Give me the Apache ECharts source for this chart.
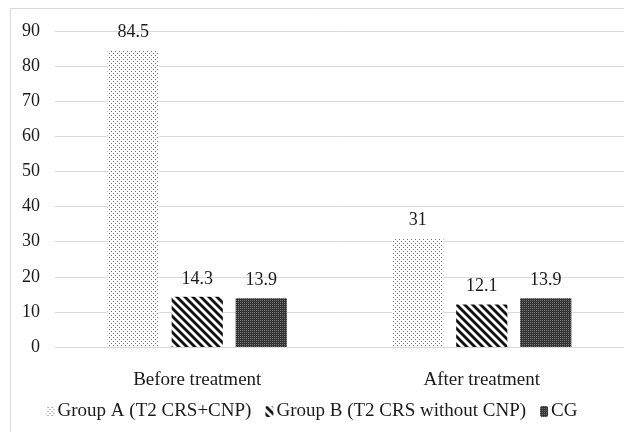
<!DOCTYPE html>
<html>
<head>
<meta charset="utf-8">
<script src="https://cdn.jsdelivr.net/npm/echarts@6/dist/echarts.min.js"></script>
<style>
  html, body { margin: 0; padding: 0; background: #fff; }
  #chart { width: 624px; height: 432px; }
</style>
</head>
<body>
<div id="chart"></div>
<script>
// Chart data
const categories = ['Before treatment', 'After treatment'];
const groupA = [84.5, 31];
const groupB = [14.3, 12.1];
const groupCG = [13.9, 13.9];
const seriesNames = ['Group A (T2 CRS+CNP)', 'Group B (T2 CRS without CNP)', 'CG'];
const yTicks = [0, 10, 20, 30, 40, 50, 60, 70, 80, 90];

// Fill patterns drawn on small tiles
function tile(w, h, draw) {
  const c = document.createElement('canvas');
  c.width = w; c.height = h;
  const ctx = c.getContext('2d');
  draw(ctx);
  return { image: c, repeat: 'repeat' };
}
const dotsFill = tile(4, 4, ctx => {
  ctx.fillStyle = '#ffffff'; ctx.fillRect(0, 0, 4, 4);
  ctx.fillStyle = '#6e6e6e';
  ctx.fillRect(1, 1, 1, 1);
  ctx.fillRect(3, 3, 1, 1);
});
const stripeFill = tile(8, 8, ctx => {
  ctx.fillStyle = '#ffffff'; ctx.fillRect(0, 0, 8, 8);
  ctx.strokeStyle = '#111111'; ctx.lineWidth = 2.8;
  for (let k = -8; k <= 16; k += 8) {
    ctx.beginPath(); ctx.moveTo(k - 8, -8); ctx.lineTo(k + 16, 16); ctx.stroke();
  }
});
const darkFill = tile(2, 2, ctx => {
  ctx.fillStyle = '#333333'; ctx.fillRect(0, 0, 2, 2);
  ctx.fillStyle = '#7a7a7a'; ctx.fillRect(0, 0, 1, 1);
});

const fills = [dotsFill, stripeFill, darkFill];
const values = [groupA, groupB, groupCG];
const serif = '"Liberation Serif", "Times New Roman", serif';
const textColor = '#1a1a1a';

const chart = echarts.init(document.getElementById('chart'), null, { renderer: 'canvas' });
chart.setOption({
  animation: false,
  backgroundColor: '#ffffff',
  graphic: [{
    type: 'rect',
    shape: { x: 10.5, y: 8.5, width: 700, height: 600 },
    style: { fill: 'none', stroke: '#d9d9d9', lineWidth: 1 },
    silent: true, z: -1
  }],
  grid: { left: 55, right: 0, top: 31, bottom: 85, containLabel: false },
  legend: {
    bottom: 6,
    left: 'center',
    itemWidth: 8,
    itemHeight: 11,
    itemGap: 14,
    textStyle: { fontFamily: serif, fontSize: 19, color: textColor, padding: [0, 0, 0, -2] },
    data: seriesNames
  },
  xAxis: {
    type: 'category',
    data: categories,
    axisLine: { show: true, lineStyle: { color: '#d9d9d9', width: 1 } },
    axisTick: { show: false },
    axisLabel: { fontFamily: serif, fontSize: 19, color: textColor, margin: 24 }
  },
  yAxis: {
    type: 'value',
    min: yTicks[0],
    max: yTicks[yTicks.length - 1],
    interval: 10,
    axisLine: { show: false },
    axisTick: { show: false },
    splitLine: { lineStyle: { color: '#d9d9d9', width: 1 } },
    axisLabel: { fontFamily: serif, fontSize: 18, color: textColor, margin: 15 }
  },
  series: seriesNames.map((name, i) => ({
    name: name,
    type: 'bar',
    data: values[i],
    barGap: '25%',
    barCategoryGap: '37%',
    itemStyle: { color: fills[i] },
    label: {
      show: true,
      position: 'top',
      distance: 9,
      fontFamily: serif,
      fontSize: 18,
      color: textColor
    }
  }))
});
</script>
</body>
</html>
